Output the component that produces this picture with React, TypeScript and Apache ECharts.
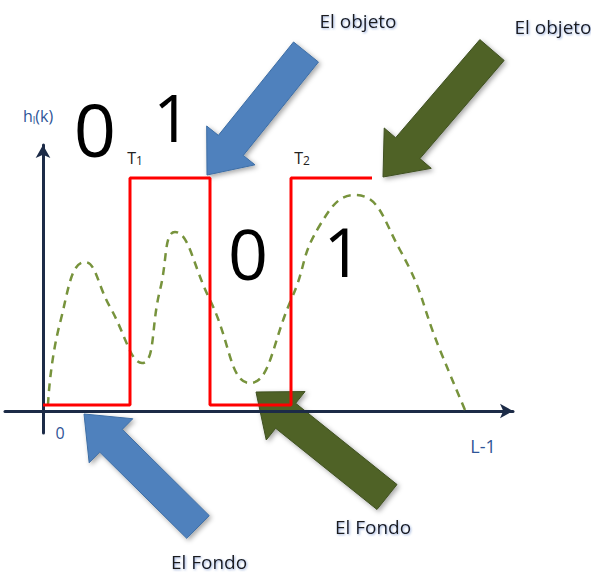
import React, { useEffect, useRef } from "react";
import * as echarts from "echarts";

// Red threshold step function (x in grey levels from 0, y in height units)
const stepX = [0, 87, 87, 167, 167, 248, 248, 329];
const stepY = [6, 6, 233, 233, 6, 6, 233, 233];

// Green dashed histogram h_l(k)
const histX = [5, 17, 42, 67, 99, 117, 132, 167, 207, 248, 277, 312, 357, 397, 422];
const histY = [6, 88, 149, 104, 48, 121, 179, 111, 28, 111, 186, 216, 161, 61, 1];

// Axis extents
const xMin = -38;
const xMax = 470;
const yMin = -22;
const yMax = 266;

const AXIS = "#1c2b47";
const BLUE = "#4f81bd";
const GREEN = "#4f6228";

function arrowPoints(tail: number[], tip: number[], shaft: number, head: number, headLen: number) {
  const dx = tip[0] - tail[0];
  const dy = tip[1] - tail[1];
  const len = Math.hypot(dx, dy);
  const ux = dx / len;
  const uy = dy / len;
  const px = -uy;
  const py = ux;
  const bx = tip[0] - ux * headLen;
  const by = tip[1] - uy * headLen;
  const s = shaft / 2;
  const h = head / 2;
  return [
    [tail[0] + px * s, tail[1] + py * s],
    [bx + px * s, by + py * s],
    [bx + px * h, by + py * h],
    [tip[0], tip[1]],
    [bx - px * h, by - py * h],
    [bx - px * s, by - py * s],
    [tail[0] - px * s, tail[1] - py * s],
  ];
}

function arrow(tail: number[], tip: number[], color: string, stroke: string) {
  return {
    type: "polygon",
    shape: { points: arrowPoints(tail, tip, 32, 62, 38) },
    style: {
      fill: color,
      stroke: stroke,
      lineWidth: 1,
      shadowBlur: 5,
      shadowOffsetX: 2,
      shadowOffsetY: 2,
      shadowColor: "rgba(0,0,0,0.35)",
    },
  };
}

function label(text: string, x: number, y: number) {
  return {
    type: "text",
    x,
    y,
    style: {
      text,
      fill: "#1a1a1a",
      font: '19px "Open Sans", sans-serif',
      textAlign: "center",
      textVerticalAlign: "middle",
      textShadowColor: "rgba(70,110,190,0.55)",
      textShadowBlur: 2,
      textShadowOffsetX: 1,
      textShadowOffsetY: 1,
    },
  };
}

function bigDigit(text: string, x: number, y: number, size: number) {
  return {
    type: "text",
    x,
    y,
    style: {
      text,
      fill: "#000",
      font: `${size}px "Open Sans", sans-serif`,
      textAlign: "center",
      textVerticalAlign: "middle",
    },
  };
}

export default function App() {
  const ref = useRef<HTMLDivElement>(null);
  useEffect(() => {
    if (!ref.current) return;
    const chart = echarts.init(ref.current, null, { renderer: "svg" });
    chart.setOption({
      animation: false,
      grid: { left: 5, right: 78, top: 145, bottom: 141 },
      xAxis: {
        type: "value",
        min: xMin,
        max: xMax,
        axisLine: {
          onZero: true,
          symbol: ["none", "arrow"],
          symbolSize: [11, 13],
          lineStyle: { color: AXIS, width: 3 },
        },
        axisTick: { show: false },
        axisLabel: { show: false },
        splitLine: { show: false },
      },
      yAxis: {
        type: "value",
        min: yMin,
        max: yMax,
        axisLine: {
          onZero: true,
          symbol: ["none", "arrow"],
          symbolSize: [11, 13],
          lineStyle: { color: AXIS, width: 3 },
        },
        axisTick: { show: false },
        axisLabel: { show: false },
        splitLine: { show: false },
      },
      series: [
        {
          type: "line",
          data: histX.map((x, i) => [x, histY[i]]),
          smooth: 0.5,
          showSymbol: false,
          lineStyle: { color: "#77933c", width: 2.5, type: [8, 6] },
          z: 2,
        },
        {
          type: "line",
          data: stepX.map((x, i) => [x, stepY[i]]),
          showSymbol: false,
          lineStyle: { color: "#ff0000", width: 3 },
          z: 3,
        },
      ],
      graphic: [
        bigDigit("0", 95, 128, 74),
        bigDigit("1", 172, 116, 66),
        bigDigit("0", 248, 253, 70),
        bigDigit("1", 343, 250, 68),
        {
          type: "text",
          x: 38,
          y: 116,
          style: {
            text: "{h|h}{s|l}{h|(k)}",
            textAlign: "center",
            textVerticalAlign: "middle",
            rich: {
              h: { fill: "#2f5597", font: '16px "Open Sans", sans-serif' },
              s: { fill: "#2f5597", font: '10px "Open Sans", sans-serif', padding: [8, 0, 0, 0] },
            },
          },
        },
        {
          type: "text",
          x: 135,
          y: 158,
          style: {
            text: "{t|T}{s|1}",
            textAlign: "center",
            textVerticalAlign: "middle",
            rich: {
              t: { fill: "#222", font: '16px "Open Sans", sans-serif' },
              s: { fill: "#222", font: '12px "Open Sans", sans-serif', padding: [4, 0, 0, 0] },
            },
          },
        },
        {
          type: "text",
          x: 302,
          y: 158,
          style: {
            text: "{t|T}{s|2}",
            textAlign: "center",
            textVerticalAlign: "middle",
            rich: {
              t: { fill: "#222", font: '16px "Open Sans", sans-serif' },
              s: { fill: "#222", font: '12px "Open Sans", sans-serif', padding: [4, 0, 0, 0] },
            },
          },
        },
        {
          type: "text",
          x: 60,
          y: 433,
          style: {
            text: "0",
            fill: "#2f5597",
            font: '16px "Open Sans", sans-serif',
            textAlign: "center",
            textVerticalAlign: "middle",
          },
        },
        {
          type: "text",
          x: 483,
          y: 446,
          style: {
            text: "L-1",
            fill: "#2f5597",
            font: '18px "Open Sans", sans-serif',
            textAlign: "center",
            textVerticalAlign: "middle",
          },
        },
        arrow([306, 52], [207, 175], BLUE, "#3e6ea5"),
        arrow([492, 50], [383, 177], GREEN, "#3f5020"),
        arrow([198, 527], [84, 414], BLUE, "#3e6ea5"),
        arrow([387, 497], [256, 392], GREEN, "#3f5020"),
        label("El objeto", 358, 21),
        label("El objeto", 553, 27),
        label("El Fondo", 209, 562),
        label("El Fondo", 373, 527),
      ],
    });
    return () => chart.dispose();
  }, []);
  return (
    <div
      ref={ref}
      style={{ position: "fixed", left: 0, top: 0, width: 591, height: 574, background: "#fff" }}
    />
  );
}
